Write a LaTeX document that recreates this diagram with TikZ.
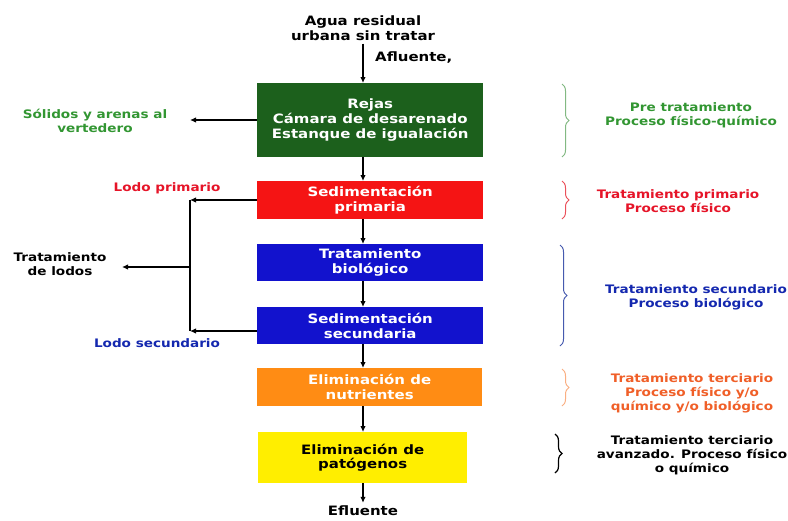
\documentclass[tikz,border=0pt]{standalone}
\usepackage{fontspec}
\setmainfont{DejaVu Sans}[FakeStretch=1.16]
\usetikzlibrary{arrows.meta,decorations.pathreplacing}
\definecolor{gbox}{RGB}{28,96,28}
\definecolor{rbox}{RGB}{245,20,20}
\definecolor{bbox}{RGB}{18,18,205}
\definecolor{obox}{RGB}{255,140,20}
\definecolor{ybox}{RGB}{255,238,0}
\definecolor{gtxt}{RGB}{50,150,50}
\definecolor{rtxt}{RGB}{230,20,40}
\definecolor{btxt}{RGB}{20,40,175}
\definecolor{otxt}{RGB}{240,95,40}
\definecolor{gbr}{RGB}{130,185,130}
\definecolor{rbr}{RGB}{235,80,90}
\definecolor{bbr}{RGB}{70,90,175}
\definecolor{obr}{RGB}{250,175,130}
\begin{document}
\begin{tikzpicture}[x=1pt,y=-1pt,
  lbl/.style={font=\fontsize{11.7}{14}\selectfont\bfseries, align=center, inner sep=0pt},
  boxtxt/.style={font=\fontsize{12.9}{14.8}\selectfont\bfseries, align=center},
  stage/.style={boxtxt, minimum width=#1, inner sep=0pt, anchor=north west},
  arr/.style={line width=1.1pt, -{Latex[length=6pt,width=5.5pt]}},
  ln/.style={line width=1.1pt},
  brc/.style={line width=1pt, decorate, decoration={brace, amplitude=7pt}}]
\useasboundingbox (0,0) rectangle (788,520);
\fill[white] (0,0) rectangle (788,520);

% column through which the main flow runs
\coordinate (ax) at (363,0);

% inflow
\node[boxtxt, inner sep=0pt] (in) at (363,28) {Agua residual\\urbana sin tratar};
\node[boxtxt, inner sep=0pt, anchor=west] (afl) at (375,58) {Afluente,};

% treatment stages
\node[stage=226pt, minimum height=74pt, fill=gbox, text=white] (pre) at (257,83)
  {Rejas\\Cámara de desarenado\\Estanque de igualación};
\node[stage=226pt, minimum height=38pt, fill=rbox, text=white] (sed1) at (257,181)
  {Sedimentación\\primaria};
\node[stage=226pt, minimum height=37pt, fill=bbox, text=white] (bio) at (257,244)
  {Tratamiento\\biológico};
\node[stage=226pt, minimum height=37pt, fill=bbox, text=white] (sed2) at (257,307)
  {Sedimentación\\secundaria};
\node[stage=225pt, minimum height=38pt, fill=obox, text=white] (nut) at (257,368)
  {Eliminación de\\nutrientes};
\node[stage=209pt, minimum height=51pt, fill=ybox, text=black] (pat) at (258,432)
  {Eliminación de\\patógenos};
\node[boxtxt, inner sep=0pt] (efl) at (363,511) {Efluente};

% main flow arrows
\draw[arr] (in.south -| ax) ++(0,3) coordinate (in0) -- (pre.north -| ax);
\draw[arr] (pre.south -| ax) -- (sed1.north -| ax);
\draw[arr] (sed1.south -| ax) -- (bio.north -| ax);
\draw[arr] (bio.south -| ax) -- (sed2.north -| ax);
\draw[arr] (sed2.south -| ax) -- (nut.north -| ax);
\draw[arr] (nut.south -| ax) -- (pat.north -| ax);
\draw[arr] (pat.south -| ax) -- ([yshift=3pt]efl.north -| ax);

% solids removed in pretreatment
\node[lbl, text=gtxt] (sol) at (95,121) {Sólidos y arenas al\\vertedero};
\coordinate (soltip) at (190,120);
\draw[arr] (pre.west |- soltip) -- (soltip);

% sludge lines
\coordinate (j1) at (190,200);
\coordinate (j2) at (190,331);
\coordinate (jm) at (190,267);
\coordinate (lodtip) at (122,267);
\draw[arr] (sed1.west |- j1) -- (j1);
\draw[arr] (sed2.west |- j2) -- (j2);
\draw[ln] (j1) -- (j2);
\draw[arr] (jm) -- (lodtip);
\node[lbl] (lodos) at (60,264) {Tratamiento\\de lodos};
\node[lbl, text=rtxt] (lp) at (167,188) {Lodo primario};
\node[lbl, text=btxt] (ls) at (157,343) {Lodo secundario};

% braces and process classes
\draw[brc, gbr] (562,84) -- (562,157);
\node[lbl, text=gtxt] (c1) at (691,115) {Pre tratamiento\\Proceso físico-químico};
\draw[brc, rbr] (562,181) -- (562,219);
\node[lbl, text=rtxt] (c2) at (678,201) {Tratamiento primario\\Proceso físico};
\draw[brc, bbr] (560,245) -- (560,346);
\node[lbl, text=btxt] (c3) at (696,297) {Tratamiento secundario\\Proceso biológico};
\draw[brc, obr] (562,369) -- (562,406);
\node[lbl, text=otxt] (c4) at (692,393) {Tratamiento terciario\\Proceso físico y/o\\químico y/o biológico};
\draw[brc, black, line width=1.2pt] (555,434) -- (555,473);
\node[lbl] (c5) at (692,455) {Tratamiento terciario\\avanzado. Proceso físico\\o químico};
\end{tikzpicture}
\end{document}
